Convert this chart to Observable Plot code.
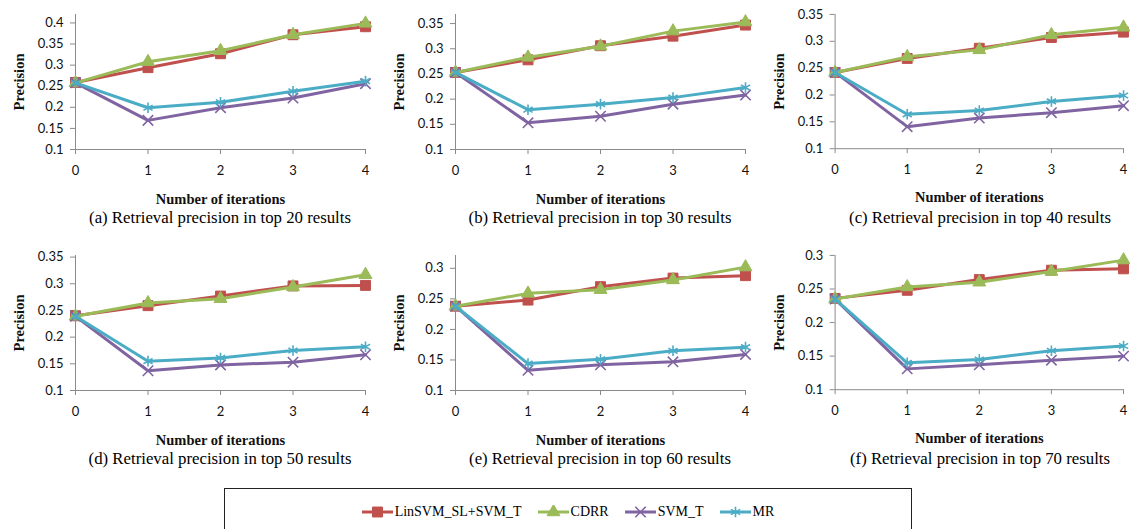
<!DOCTYPE html>
<html><head><meta charset="utf-8">
<script src="https://cdn.jsdelivr.net/npm/d3@7"></script>
<script src="https://cdn.jsdelivr.net/npm/@observablehq/plot@0.6"></script>
<style>
html,body{margin:0;padding:0;background:#fff;}
body{width:1130px;height:529px;overflow:hidden;position:relative;}
.panel{position:absolute;}
.panel svg{display:block;overflow:visible;}
.caption{position:absolute;left:45px;width:350px;top:208px;line-height:20px;text-align:center;font-family:"Liberation Serif","Times New Roman",serif;font-size:16.8px;color:#000;white-space:nowrap;}
g[aria-label="x-axis label"] text, g[aria-label="y-axis label"] text{font-family:"Liberation Serif","Times New Roman",serif !important;font-weight:bold !important;font-size:14.5px !important;}
.legend{position:absolute;left:224px;top:488px;width:688px;height:50px;border:1px solid #222;box-sizing:border-box;display:flex;justify-content:center;align-items:flex-start;padding-top:14px;gap:16px;font-family:"Liberation Serif","Times New Roman",serif;font-size:14px;}
.legend .item{display:flex;align-items:center;gap:2px;height:18px;}
</style>
</head><body>
<div id="root"></div>
<script>
// ---- data ----
const iterations = [0, 1, 2, 3, 4];
const seriesNames = ["LinSVM_SL+SVM_T", "CDRR", "SVM_T", "MR"];
const panelCaptions = [
  "(a) Retrieval precision in top 20 results",
  "(b) Retrieval precision in top 30 results",
  "(c) Retrieval precision in top 40 results",
  "(d) Retrieval precision in top 50 results",
  "(e) Retrieval precision in top 60 results",
  "(f) Retrieval precision in top 70 results"
];
// one row per panel (a..f), one value per iteration
const linSvm = [
  [0.259, 0.294, 0.327, 0.372, 0.391],
  [0.253, 0.278, 0.306, 0.325, 0.347],
  [0.242, 0.268, 0.287, 0.307, 0.317],
  [0.240, 0.259, 0.277, 0.296, 0.297],
  [0.238, 0.248, 0.270, 0.284, 0.288],
  [0.236, 0.248, 0.264, 0.278, 0.280]
];
const cdrr = [
  [0.258, 0.308, 0.334, 0.372, 0.399],
  [0.253, 0.283, 0.305, 0.335, 0.353],
  [0.242, 0.271, 0.284, 0.312, 0.326],
  [0.239, 0.264, 0.272, 0.294, 0.317],
  [0.238, 0.259, 0.265, 0.281, 0.302],
  [0.235, 0.253, 0.260, 0.276, 0.293]
];
const svmT = [
  [0.258, 0.169, 0.199, 0.222, 0.256],
  [0.253, 0.153, 0.166, 0.190, 0.208],
  [0.242, 0.141, 0.157, 0.167, 0.180],
  [0.239, 0.137, 0.148, 0.153, 0.167],
  [0.238, 0.133, 0.142, 0.147, 0.159],
  [0.235, 0.131, 0.137, 0.144, 0.150]
];
const mr = [
  [0.258, 0.199, 0.212, 0.238, 0.262],
  [0.253, 0.179, 0.190, 0.203, 0.223],
  [0.242, 0.164, 0.171, 0.188, 0.199],
  [0.239, 0.155, 0.161, 0.175, 0.182],
  [0.238, 0.144, 0.151, 0.165, 0.171],
  [0.235, 0.140, 0.145, 0.158, 0.165]
];
const yTicks = [
  [0.1, 0.15, 0.2, 0.25, 0.3, 0.35, 0.4],
  [0.1, 0.15, 0.2, 0.25, 0.3, 0.35],
  [0.1, 0.15, 0.2, 0.25, 0.3, 0.35],
  [0.1, 0.15, 0.2, 0.25, 0.3, 0.35],
  [0.1, 0.15, 0.2, 0.25, 0.3],
  [0.1, 0.15, 0.2, 0.25, 0.3]
];
const yMin = [0.1, 0.1, 0.1, 0.1, 0.1, 0.1];
const yMax = [0.42, 0.368, 0.35, 0.353, 0.321, 0.30];
const yLabel = "Precision";
const xLabel = "Number of iterations";

// ---- style ----
const seriesValues = [linSvm, cdrr, svmT, mr];
const colors = ["#C0504D", "#9BBB59", "#8064A2", "#4BACC6"];
const symbols = ["square", "triangle", "times", "asterisk"];
const symbolR = [5.6, 4.8, 4.8, 5];
const filled = [true, true, false, false];
const colLeft = [0, 380, 760];
const rowTop = [0, 241];

const root = document.getElementById("root");

function makePanel(p) {
  const marks = [
    Plot.ruleX([0], {stroke: "#8a8a8a", strokeWidth: 1}),
    Plot.ruleY([yMin[p]], {stroke: "#8a8a8a", strokeWidth: 1}),
    Plot.axisY({ticks: yTicks[p], tickSize: 5, tickPadding: 7, stroke: "#8a8a8a",
      tickFormat: d => String(+d.toFixed(2)),
      label: yLabel, labelAnchor: "center", labelArrow: "none", labelOffset: 62,
      fontSize: 13, fontFamily: "Lato, 'Open Sans', sans-serif", fill: "#111"}),
    Plot.axisX({ticks: iterations, tickSize: 5, tickPadding: 11, stroke: "#8a8a8a",
      tickFormat: d => String(d),
      label: xLabel, labelAnchor: "center", labelArrow: "none", labelOffset: 54,
      fontSize: 13, fontFamily: "Lato, 'Open Sans', sans-serif", fill: "#111"})
  ];
  seriesNames.forEach((name, s) => {
    const rows = iterations.map((it, i) => ({iter: it, value: seriesValues[s][p][i], series: name}));
    marks.push(Plot.line(rows, {x: "iter", y: "value", stroke: colors[s], strokeWidth: 3}));
    marks.push(Plot.dot(rows, {x: "iter", y: "value", symbol: () => symbols[s], r: symbolR[s],
      fill: filled[s] ? colors[s] : "none", stroke: colors[s], strokeWidth: filled[s] ? 1 : 1.6}));
  });
  const chart = Plot.plot({
    width: 372, height: 205,
    marginLeft: 75, marginRight: 7, marginTop: 14, marginBottom: 56,
    style: {background: "transparent", overflow: "visible"},
    x: {domain: [0, 4]},
    y: {domain: [yMin[p], yMax[p]]},
    symbol: {type: "identity"},
    marks
  });
  const div = document.createElement("div");
  div.className = "panel";
  div.style.left = colLeft[p % 3] + "px";
  div.style.top = rowTop[Math.floor(p / 3)] + "px";
  div.appendChild(chart);
  const cap = document.createElement("div");
  cap.className = "caption";
  cap.textContent = panelCaptions[p];
  div.appendChild(cap);
  root.appendChild(div);
}
for (let p = 0; p < 6; p++) makePanel(p);

// ---- legend ----
const legend = document.createElement("div");
legend.className = "legend";
seriesNames.forEach((name, s) => {
  const item = document.createElement("div");
  item.className = "item";
  const svg = d3.create("svg").attr("width", 31).attr("height", 14);
  svg.append("line").attr("x1", 0).attr("x2", 31).attr("y1", 7).attr("y2", 7)
    .attr("stroke", colors[s]).attr("stroke-width", 3);
  const symMap = {square: d3.symbolSquare, triangle: d3.symbolTriangle, times: d3.symbolTimes, asterisk: d3.symbolAsterisk};
  svg.append("path").attr("transform", "translate(15.5,7)")
    .attr("d", d3.symbol(symMap[symbols[s]], Math.PI * symbolR[s] * symbolR[s])())
    .attr("fill", filled[s] ? colors[s] : "none").attr("stroke", colors[s]).attr("stroke-width", filled[s] ? 1 : 1.6);
  item.appendChild(svg.node());
  const t = document.createElement("span");
  t.textContent = name;
  item.appendChild(t);
  legend.appendChild(item);
});
document.body.appendChild(legend);
</script>
</body></html>
